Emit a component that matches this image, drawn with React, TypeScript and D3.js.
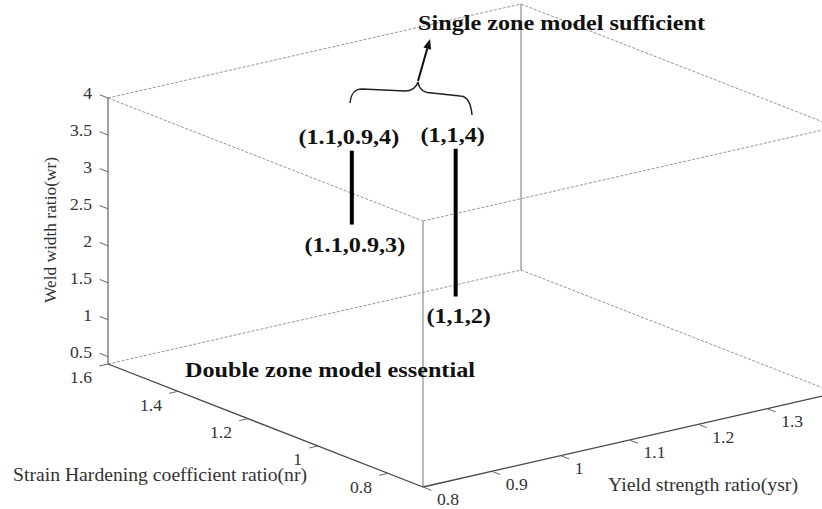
import React from "react";
import * as d3 from "d3";

// Axis ranges and ticks
const nrDomain = [1.6, 0.7];
const ysrDomain = [0.8, 1.4];
const wrDomain = [0.4, 4];
const nrTicks = [1.6, 1.4, 1.2, 1, 0.8];
const ysrTicks = [0.8, 0.9, 1, 1.1, 1.2, 1.3];
const wrTicks = [0.5, 1, 1.5, 2, 2.5, 3, 3.5, 4];

// Vertical segments (nr, ysr, wr from low to high)
const segNr = [1.1, 1];
const segYsr = [0.9, 1];
const segWrLow = [3, 2];
const segWrHigh = [4, 4];

const W = 822;
const H = 509;

// Oblique projection basis: origin corner and one vector per axis span
const O = [108, 364];
const A = [315, 123]; // nr span
const B = [413, -94]; // ysr span
const C = [0, -266]; // wr span

const nrS = d3.scaleLinear().domain(nrDomain).range([0, 1]);
const ysrS = d3.scaleLinear().domain(ysrDomain).range([0, 1]);
const wrS = d3.scaleLinear().domain(wrDomain).range([0, 1]);

function proj(nr: number, ysr: number, wr: number): [number, number] {
  const a = nrS(nr), b = ysrS(ysr), c = wrS(wr);
  return [O[0] + a * A[0] + b * B[0] + c * C[0], O[1] + a * A[1] + b * B[1] + c * C[1]];
}

function unit(v: number[]) {
  const l = Math.hypot(v[0], v[1]);
  return [v[0] / l, v[1] / l];
}

const serif = "'Liberation Serif', 'Times New Roman', serif";
const tickColor = "#333";

function Label({ x, y, anchor, size, bold, children }: any) {
  // slightly widened serif lettering
  return (
    <text
      transform={`translate(${x},${y}) scale(1.1,1)`}
      textAnchor={anchor}
      fontFamily={serif}
      fontWeight={bold ? "bold" : "normal"}
      fontSize={size}
      fill={bold ? "#111" : tickColor}
      dominantBaseline={bold ? "auto" : "central"}
    >
      {children}
    </text>
  );
}

export default function App() {
  const [n0, n1] = nrDomain;
  const [y0, y1] = ysrDomain;
  const [z0, z1] = wrDomain;

  const line = (p: [number, number], q: [number, number], props: any, key: string) => (
    <line key={key} x1={p[0]} y1={p[1]} x2={q[0]} y2={q[1]} {...props} />
  );

  const dashed = { stroke: "#8a8a8a", strokeWidth: 0.9, strokeDasharray: "3,1.6" };
  const solidGray = { stroke: "#8c8c8c", strokeWidth: 1.2 };
  const axisDark = { stroke: "#444", strokeWidth: 1.3 };

  const edges = [
    // top face
    line(proj(n0, y0, z1), proj(n0, y1, z1), dashed, "t1"),
    line(proj(n0, y0, z1), proj(n1, y0, z1), dashed, "t2"),
    line(proj(n0, y1, z1), proj(n1, y1, z1), dashed, "t3"),
    line(proj(n1, y0, z1), proj(n1, y1, z1), dashed, "t4"),
    // bottom back edges
    line(proj(n0, y0, z0), proj(n0, y1, z0), dashed, "b1"),
    line(proj(n0, y1, z0), proj(n1, y1, z0), dashed, "b2"),
    // verticals
    line(proj(n0, y0, z0), proj(n0, y0, z1), { stroke: "#888", strokeWidth: 1.6 }, "v1"),
    line(proj(n1, y0, z0), proj(n1, y0, z1), solidGray, "v2"),
    line(proj(n0, y1, z0), proj(n0, y1, z1), solidGray, "v3"),
    line(proj(n1, y1, z0), proj(n1, y1, z1), solidGray, "v4"),
    // axes
    line(proj(n0, y0, z0), proj(n1, y0, z0), axisDark, "ax1"),
    line(proj(n1, y0, z0), proj(n1, y1, z0), axisDark, "ax2"),
  ];

  const uA = unit(A), uB = unit(B);
  const tl = 9;

  const wrTickEls = wrTicks.map((t) => {
    const p = proj(n0, y0, t);
    return (
      <g key={"wr" + t}>
        <line x1={p[0]} y1={p[1]} x2={p[0] - uA[0] * tl} y2={p[1] - uA[1] * tl} stroke="#666" strokeWidth={1} />
        <Label x={p[0] - 16} y={p[1] - 4} anchor="end" size={16}>{t}</Label>
      </g>
    );
  });

  const nrTickEls = nrTicks.map((t) => {
    const p = proj(t, y0, z0);
    return (
      <g key={"nr" + t}>
        <line x1={p[0]} y1={p[1]} x2={p[0] - uB[0] * tl} y2={p[1] - uB[1] * tl} stroke="#666" strokeWidth={1} />
        <Label x={p[0] - 16} y={p[1] + 14} anchor="end" size={16}>{t}</Label>
      </g>
    );
  });

  const ysrTickEls = ysrTicks.map((t) => {
    const p = proj(n1, t, z0);
    return (
      <g key={"ysr" + t}>
        <line x1={p[0]} y1={p[1]} x2={p[0] + uA[0] * tl} y2={p[1] + uA[1] * tl} stroke="#666" strokeWidth={1} />
        <Label x={p[0] + 14} y={p[1] + 13} anchor="start" size={16}>{t}</Label>
      </g>
    );
  });

  const segs = segNr.map((nr, i) => {
    const ysr = segYsr[i];
    const lo = proj(nr, ysr, segWrLow[i]);
    const hi = proj(nr, ysr, segWrHigh[i]);
    return (
      <g key={"seg" + i}>
        <line x1={lo[0]} y1={lo[1]} x2={hi[0]} y2={hi[1]} stroke="#000" strokeWidth={4} />
        <Label x={hi[0] - 3} y={hi[1] - 7} anchor="middle" size={22} bold>
          {`(${nr},${ysr},${segWrHigh[i]})`}
        </Label>
        <Label x={lo[0] + 3} y={lo[1] + 27} anchor="middle" size={22} bold>
          {`(${nr},${ysr},${segWrLow[i]})`}
        </Label>
      </g>
    );
  });

  // arrow from brace tip toward the upper annotation
  const tip = [418, 81];
  const head = [430, 39];
  const dir = unit([head[0] - tip[0], head[1] - tip[1]]);
  const perp = [-dir[1], dir[0]];
  const hl = 10, hw = 4;
  const base = [head[0] - dir[0] * hl, head[1] - dir[1] * hl];
  const arrowHead = `M${head[0]},${head[1]} L${base[0] + perp[0] * hw},${base[1] + perp[1] * hw} L${base[0] - perp[0] * hw},${base[1] - perp[1] * hw} Z`;

  return (
    <svg width={W} height={H} style={{ position: "absolute", left: 0, top: 0, background: "#fff" }}>
      <rect width={W} height={H} fill="#fff" />
      {edges}
      {wrTickEls}
      {nrTickEls}
      {ysrTickEls}
      {segs}

      {/* brace grouping the two upper points */}
      <path
        d="M350,103 C351,94 354,89 362,89 L405,91 C412,91 416,88 418,82 C419,88 423,93 432,93 L460,96 C468,96 471,104 472,115"
        fill="none"
        stroke="#222"
        strokeWidth={1.5}
      />
      <line x1={tip[0]} y1={tip[1]} x2={base[0]} y2={base[1]} stroke="#111" strokeWidth={2} />
      <path d={arrowHead} fill="#111" />

      <text x={418} y={30} fontFamily={serif} fontWeight="bold" fontSize={22} fill="#111" textLength={287} lengthAdjust="spacingAndGlyphs">
        Single zone model sufficient
      </text>
      <text x={185} y={377} fontFamily={serif} fontWeight="bold" fontSize={22} fill="#111" textLength={290} lengthAdjust="spacingAndGlyphs">
        Double zone model essential
      </text>

      {/* axis titles */}
      <text
        transform="translate(56,230) rotate(-90)"
        textAnchor="middle"
        fontFamily={serif}
        fontSize={17}
        fill={tickColor}
        textLength={146}
        lengthAdjust="spacingAndGlyphs"
      >
        Weld width ratio(wr)
      </text>
      <text x={13} y={481} fontFamily={serif} fontSize={18} fill={tickColor} textLength={294} lengthAdjust="spacingAndGlyphs">
        Strain Hardening coefficient ratio(nr)
      </text>
      <text x={608} y={491} fontFamily={serif} fontSize={18} fill={tickColor} textLength={190} lengthAdjust="spacingAndGlyphs">
        Yield strength ratio(ysr)
      </text>
    </svg>
  );
}
